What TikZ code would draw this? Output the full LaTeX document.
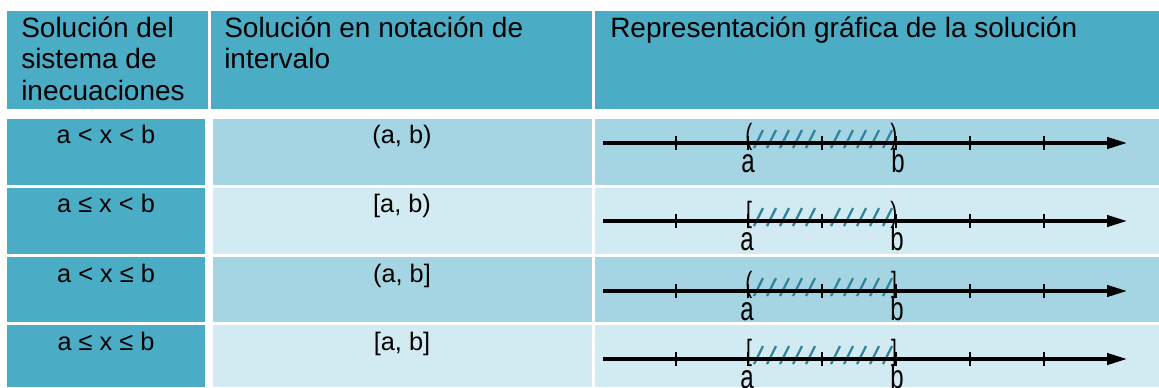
\documentclass[tikz,border=0pt]{standalone}
\usepackage{fontspec}
\setmainfont{Liberation Sans}
\newfontfamily\estrecha{Liberation Sans}[FakeStretch=0.72]
\usetikzlibrary{arrows.meta}
\definecolor{cabecera}{HTML}{4BACC6}
\definecolor{bandauno}{HTML}{A5D5E2}
\definecolor{bandados}{HTML}{D2EAF1}
\definecolor{rayado}{HTML}{31849B}

\begin{document}
\begin{tikzpicture}[x=0.75pt,y=0.75pt,yscale=-1,xscale=1,
  recta/.style={line width=2.4pt,-{Triangle[length=15pt,width=8.5pt]}},
  marca/.style={line width=2.2pt},
  raya/.style={draw=rayado,line width=1.7pt},
  cab/.style={anchor=base west,align=left,inner sep=0pt,font=\fontsize{21}{23.6}\selectfont},
  celda/.style={anchor=base,inner sep=0pt,font=\fontsize{19}{22}\selectfont},
  extremo/.style={inner sep=0pt,font=\estrecha\fontsize{22}{22}\selectfont},
  letra/.style={anchor=base,inner sep=0pt,font=\estrecha\fontsize{25}{25}\selectfont}]
\useasboundingbox (0,0) rectangle (1159,387);
\clip (0,0) rectangle (1159,387);

%Cells
\fill[cabecera] (7,11) rectangle (208,109);
\fill[cabecera] (211,11) rectangle (592,109);
\fill[cabecera] (595,11) rectangle (1159,109);
\fill[cabecera] (7,119) rectangle (205,185);
\fill[bandauno] (213,119) rectangle (592,185);
\fill[bandauno] (595,119) rectangle (1159,185);
\fill[cabecera] (7,188) rectangle (205,254);
\fill[bandados] (213,188) rectangle (592,254);
\fill[bandados] (595,188) rectangle (1159,254);
\fill[cabecera] (7,257) rectangle (205,322);
\fill[bandauno] (213,257) rectangle (592,322);
\fill[bandauno] (595,257) rectangle (1159,322);
\fill[cabecera] (7,325) rectangle (205,387);
\fill[bandados] (213,325) rectangle (592,387);
\fill[bandados] (595,325) rectangle (1159,387);

% Text Node (base = last line)
\node[cab] (cabuno) at (21,100) {Solución del\\sistema de\\inecuaciones};
% Text Node
\node[cab] (cabdos) at (224,68.5) {Solución en notación de\\intervalo};
% Text Node
\node[cab] (cabtres) at (610,37) {Representación gráfica de la solución};

% Text Node
\node[celda] (ineuno) at (106,143) {a < x < b};
% Text Node
\node[celda] (intuno) at (402,143) {(a, b)};
% Text Node
\node[celda] (inedos) at (106,212) {a ≤ x < b};
% Text Node
\node[celda] (intdos) at (402,212) {[a, b)};
% Text Node
\node[celda] (inetres) at (106,282) {a < x ≤ b};
% Text Node
\node[celda] (inttres) at (402,282) {(a, b]};
% Text Node
\node[celda] (inecuatro) at (106,350) {a ≤ x ≤ b};
% Text Node
\node[celda] (intcuatro) at (402,350) {[a, b]};

%Number line 1
\coordinate (iniuno) at (603,143);
\coordinate (finuno) at (1127,143);
\foreach \h in {754,767,780,793,806,831,844,857,870,883}
  \draw[raya] (\h,148) -- ++(9,-18);
\draw[recta] (iniuno) -- (finuno);
\foreach \t in {676,748,822,896,970,1044}
  \draw[marca] (\t,136) -- (\t,150);
\node[extremo] (abruno) at (749,137) {(};
\node[extremo] (cieuno) at (894,137) {)};
\node[letra] (auno) at (748,172) {a};
\node[letra] (buno) at (898,172) {b};

%Number line 2
\coordinate (inidos) at (603,221);
\coordinate (findos) at (1127,221);
\foreach \h in {754,767,780,793,806,831,844,857,870,883}
  \draw[raya] (\h,226) -- ++(9,-18);
\draw[recta] (inidos) -- (findos);
\foreach \t in {676,748,822,896,970,1044}
  \draw[marca] (\t,214) -- (\t,228);
\node[extremo] (abrdos) at (749,215) {[};
\node[extremo] (ciedos) at (894,215) {)};
\node[letra] (ados) at (747,250) {a};
\node[letra] (bdos) at (897,250) {b};

%Number line 3
\coordinate (initres) at (603,291);
\coordinate (fintres) at (1127,291);
\foreach \h in {754,767,780,793,806,831,844,857,870,883}
  \draw[raya] (\h,296) -- ++(9,-18);
\draw[recta] (initres) -- (fintres);
\foreach \t in {676,748,822,896,970,1044}
  \draw[marca] (\t,284) -- (\t,298);
\node[extremo] (abrtres) at (749,285) {(};
\node[extremo] (cietres) at (894,285) {]};
\node[letra] (atres) at (747,320) {a};
\node[letra] (btres) at (897,320) {b};

%Number line 4
\coordinate (inicuatro) at (603,359);
\coordinate (fincuatro) at (1127,359);
\foreach \h in {754,767,780,793,806,831,844,857,870,883}
  \draw[raya] (\h,364) -- ++(9,-18);
\draw[recta] (inicuatro) -- (fincuatro);
\foreach \t in {676,748,822,896,970,1044}
  \draw[marca] (\t,352) -- (\t,366);
\node[extremo] (abrcuatro) at (749,353) {[};
\node[extremo] (ciecuatro) at (894,353) {]};
\node[letra] (acuatro) at (747,388) {a};
\node[letra] (bcuatro) at (897,388) {b};

\end{tikzpicture}
\end{document}
